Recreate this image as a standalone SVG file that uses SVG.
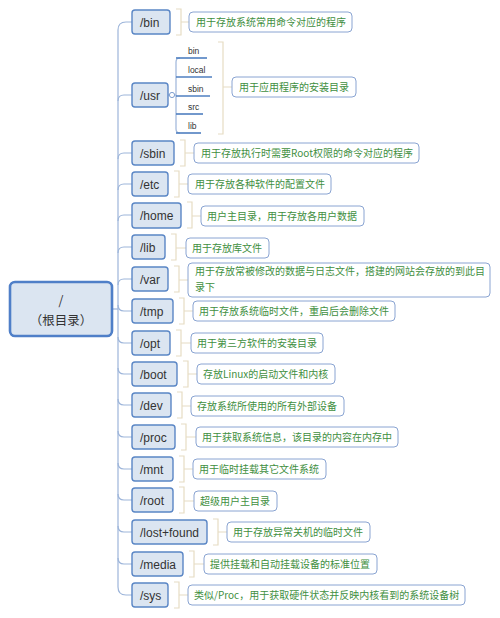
<svg xmlns="http://www.w3.org/2000/svg" width="500" height="618" viewBox="0 0 500 618">
<style>
.bg{fill:#ffffff}
.trunk{fill:none;stroke:#9db5da;stroke-width:1.2}
.brk{fill:none;stroke:#e6dcc3;stroke-width:1.2}
.ul{fill:none;stroke:#4f7fc0;stroke-width:1.6}
.sub{fill:none;stroke:#9db5da;stroke-width:1.2}
.node rect{fill:#dbe5f1;stroke:#5a86c5;stroke-width:1.4}
.node text{font-family:"Liberation Sans","Noto Sans CJK SC",sans-serif;font-size:12px;fill:#333333}
.desc rect{fill:#ffffff;stroke:#8aa4d2;stroke-width:1}
.desc text{font-family:"Noto Sans CJK SC","Liberation Sans",sans-serif;font-size:10px;fill:#3f8f3f}
.item{font-family:"Liberation Sans","Noto Sans",sans-serif;font-size:8.5px;fill:#333333}
#root rect{fill:#dbe5f1;stroke:#4f7fc8;stroke-width:2.6}
#root text{font-family:"Noto Sans CJK SC","Liberation Sans",sans-serif;font-size:12.5px;fill:#333333;text-anchor:middle}
</style>
<rect class="bg" x="0" y="0" width="500" height="618"/>

<g id="connectors">
  <path class="trunk" d="M112,309 H118"/>
  <path class="trunk" d="M132,22 H126 Q118,22 118,30 V587 Q118,595 126,595 H132"/>
  <path class="trunk" d="M118,101 Q118,95 124,95 H132"/>
  <path class="trunk" d="M118,159 Q118,153 124,153 H132"/>
  <path class="trunk" d="M118,190 Q118,184 124,184 H132"/>
  <path class="trunk" d="M118,221 Q118,215 124,215 H132"/>
  <path class="trunk" d="M118,253 Q118,247 124,247 H132"/>
  <path class="trunk" d="M118,285 Q118,279 124,279 H132"/>
  <path class="trunk" d="M118,305 Q118,311 124,311 H132"/>
  <path class="trunk" d="M118,337 Q118,343 124,343 H132"/>
  <path class="trunk" d="M118,368 Q118,374 124,374 H132"/>
  <path class="trunk" d="M118,399 Q118,405 124,405 H132"/>
  <path class="trunk" d="M118,431 Q118,437 124,437 H132"/>
  <path class="trunk" d="M118,463 Q118,469 124,469 H132"/>
  <path class="trunk" d="M118,494 Q118,500 124,500 H132"/>
  <path class="trunk" d="M118,526 Q118,532 124,532 H132"/>
  <path class="trunk" d="M118,558 Q118,564 124,564 H132"/>

  <!-- /usr sub items -->
  <path class="sub" d="M168,95 H169"/>
  <circle cx="172" cy="95" r="2.6" fill="#ffffff" stroke="#7f9fd0" stroke-width="1"/>
  <path class="sub" d="M174.6,95 H176"/>
  <path class="sub" d="M180,58 Q176,58 176,62 V129 Q176,133 180,133"/>
  <path class="ul" d="M176,58 H207"/>
  <path class="ul" d="M176,77 H212"/>
  <path class="ul" d="M176,96 H210"/>
  <path class="ul" d="M176,114 H203"/>
  <path class="ul" d="M176,133 H201"/>

  <!-- brackets -->
  <path class="brk" d="M176,9 H181 V35 H176 M181,22 H189"/>
  <path class="brk" d="M218,42 H223 V134 H218 M223,87 H232"/>
  <path class="brk" d="M180,140 H185 V166 H180 M185,153 H194"/>
  <path class="brk" d="M174,171 H179 V197 H174 M179,184 H188"/>
  <path class="brk" d="M187,202 H192 V228 H187 M192,216 H201"/>
  <path class="brk" d="M171,234 H176 V260 H171 M176,248 H186"/>
  <path class="brk" d="M174,266 H179 V292 H174 M179,280 H188"/>
  <path class="brk" d="M179,298 H184 V324 H179 M184,311 H193"/>
  <path class="brk" d="M176,330 H181 V356 H176 M181,343 H191"/>
  <path class="brk" d="M183,361 H188 V387 H183 M188,374 H197"/>
  <path class="brk" d="M177,392 H182 V418 H177 M182,406 H191"/>
  <path class="brk" d="M181,424 H186 V450 H181 M186,437 H196"/>
  <path class="brk" d="M179,456 H184 V482 H179 M184,469 H193"/>
  <path class="brk" d="M179,487 H184 V513 H179 M184,501 H194"/>
  <path class="brk" d="M213,519 H218 V545 H213 M218,532 H227"/>
  <path class="brk" d="M189,551 H194 V577 H189 M194,564 H204"/>
  <path class="brk" d="M174,582 H179 V608 H174 M179,595 H188"/>
</g>

<g id="root">
  <rect x="10" y="282" width="102" height="54" rx="5"/>
  <text x="61" y="305">/</text>
  <text x="61" y="324.5">（根目录）</text>
</g>

<g id="n-bin" class="node"><rect x="132" y="10" width="38" height="24" rx="3"/><text x="140" y="26.5">/bin</text></g>
<g id="d-bin" class="desc"><rect x="189" y="12" width="163" height="20" rx="4"/><text x="196" y="25.5">用于存放系统常用命令对应的程序</text></g>

<g id="n-usr" class="node"><rect x="132" y="83" width="36" height="24" rx="3"/><text x="140" y="99.5">/usr</text></g>
<g id="usr-items">
  <text class="item" x="188" y="54">bin</text>
  <text class="item" x="188" y="73">local</text>
  <text class="item" x="188" y="92">sbin</text>
  <text class="item" x="188" y="110">src</text>
  <text class="item" x="188" y="129">lib</text>
</g>
<g id="d-usr" class="desc"><rect x="232" y="77" width="124" height="20" rx="4"/><text x="239" y="90.5">用于应用程序的安装目录</text></g>

<g id="n-sbin" class="node"><rect x="132" y="141" width="42" height="24" rx="3"/><text x="140" y="157.5">/sbin</text></g>
<g id="d-sbin" class="desc"><rect x="194" y="143" width="225" height="20" rx="4"/><text x="201" y="156.5">用于存放执行时需要Root权限的命令对应的程序</text></g>

<g id="n-etc" class="node"><rect x="132" y="172" width="36" height="24" rx="3"/><text x="140" y="188.5">/etc</text></g>
<g id="d-etc" class="desc"><rect x="188" y="174" width="143" height="20" rx="4"/><text x="195" y="187.5">用于存放各种软件的配置文件</text></g>

<g id="n-home" class="node"><rect x="132" y="203" width="49" height="25" rx="3"/><text x="140" y="220">/home</text></g>
<g id="d-home" class="desc"><rect x="201" y="206" width="163" height="20" rx="4"/><text x="207" y="219.5">用户主目录，用于存放各用户数据</text></g>

<g id="n-lib" class="node"><rect x="132" y="235" width="33" height="24" rx="3"/><text x="140" y="251.5">/lib</text></g>
<g id="d-lib" class="desc"><rect x="186" y="238" width="83" height="20" rx="4"/><text x="192" y="251.5">用于存放库文件</text></g>

<g id="n-var" class="node"><rect x="132" y="267" width="36" height="24" rx="3"/><text x="140" y="283.5">/var</text></g>
<g id="d-var" class="desc"><rect x="188" y="263" width="302" height="34" rx="4"/><text x="195" y="275">用于存放常被修改的数据与日志文件，搭建的网站会存放的到此目</text><text x="195" y="290.5">录下</text></g>

<g id="n-tmp" class="node"><rect x="132" y="299" width="41" height="24" rx="3"/><text x="140" y="315.5">/tmp</text></g>
<g id="d-tmp" class="desc"><rect x="193" y="301" width="202" height="20" rx="4"/><text x="199" y="314.5">用于存放系统临时文件，重启后会删除文件</text></g>

<g id="n-opt" class="node"><rect x="132" y="331" width="38" height="24" rx="3"/><text x="140" y="347.5">/opt</text></g>
<g id="d-opt" class="desc"><rect x="191" y="333" width="132" height="20" rx="4"/><text x="197" y="346.5">用于第三方软件的安装目录</text></g>

<g id="n-boot" class="node"><rect x="132" y="362" width="45" height="24" rx="3"/><text x="140" y="378.5">/boot</text></g>
<g id="d-boot" class="desc"><rect x="197" y="364" width="138" height="20" rx="4"/><text x="203" y="377.5">存放Linux的启动文件和内核</text></g>

<g id="n-dev" class="node"><rect x="132" y="393" width="39" height="24" rx="3"/><text x="140" y="409.5">/dev</text></g>
<g id="d-dev" class="desc"><rect x="191" y="396" width="153" height="20" rx="4"/><text x="197" y="409.5">存放系统所使用的所有外部设备</text></g>

<g id="n-proc" class="node"><rect x="132" y="425" width="43" height="24" rx="3"/><text x="140" y="441.5">/proc</text></g>
<g id="d-proc" class="desc"><rect x="196" y="427" width="202" height="20" rx="4"/><text x="202" y="440.5">用于获取系统信息，该目录的内容在内存中</text></g>

<g id="n-mnt" class="node"><rect x="132" y="457" width="41" height="24" rx="3"/><text x="140" y="473.5">/mnt</text></g>
<g id="d-mnt" class="desc"><rect x="193" y="459" width="133" height="20" rx="4"/><text x="199" y="472.5">用于临时挂载其它文件系统</text></g>

<g id="n-root" class="node"><rect x="132" y="488" width="41" height="24" rx="3"/><text x="140" y="504.5">/root</text></g>
<g id="d-root" class="desc"><rect x="194" y="491" width="83" height="20" rx="4"/><text x="200" y="504.5">超级用户主目录</text></g>

<g id="n-lostfound" class="node"><rect x="132" y="520" width="75" height="24" rx="3"/><text x="140" y="536.5">/lost+found</text></g>
<g id="d-lostfound" class="desc"><rect x="227" y="522" width="143" height="20" rx="4"/><text x="233" y="535.5">用于存放异常关机的临时文件</text></g>

<g id="n-media" class="node"><rect x="132" y="552" width="51" height="24" rx="3"/><text x="140" y="568.5">/media</text></g>
<g id="d-media" class="desc"><rect x="204" y="554" width="173" height="20" rx="4"/><text x="210" y="567.5">提供挂载和自动挂载设备的标准位置</text></g>

<g id="n-sys" class="node"><rect x="132" y="583" width="36" height="24" rx="3"/><text x="140" y="599.5">/sys</text></g>
<g id="d-sys" class="desc"><rect x="188" y="585" width="277" height="20" rx="4"/><text x="194" y="598.5">类似/Proc，用于获取硬件状态并反映内核看到的系统设备树</text></g>
</svg>
